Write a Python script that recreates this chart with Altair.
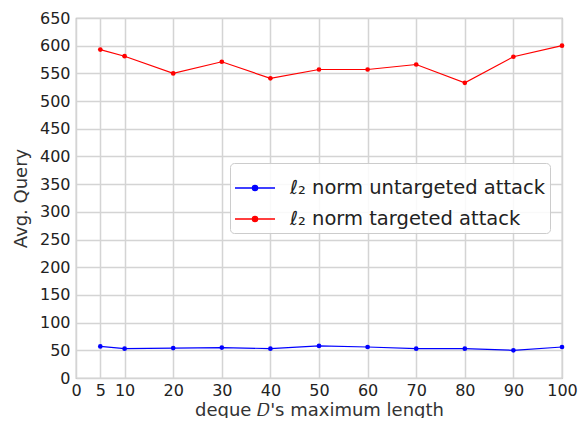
import altair as alt
import pandas as pd

lengths = [5, 10, 20, 30, 40, 50, 60, 70, 80, 90, 100]
untargeted = [57, 53, 54, 55, 53, 58, 56, 53, 53, 50, 56]
targeted = [593, 581, 550, 571, 541, 557, 557, 566, 533, 580, 600]
series_names = ["ℓ₂ norm untargeted attack", "ℓ₂ norm targeted attack"]
series_colors = ["#0000ff", "#ff0000"]
x_ticks = [0, 5, 10, 20, 30, 40, 50, 60, 70, 80, 90, 100]
y_ticks = list(range(0, 651, 50))

rows = []
for L, u, t in zip(lengths, untargeted, targeted):
    rows.append({"len": L, "q": u, "series": series_names[0]})
    rows.append({"len": L, "q": t, "series": series_names[1]})
df = pd.DataFrame(rows)

font = "DejaVu Sans"
sym = "M -1 0 L 1 0 M -0.13 0 A 0.13 0.13 0 1 0 0.13 0 A 0.13 0.13 0 1 0 -0.13 0 Z"

chart = alt.Chart(df).mark_line(
    strokeWidth=1.2,
    point=alt.OverlayMarkDef(filled=True, size=22),
).encode(
    x=alt.X("len:Q", scale=alt.Scale(domain=[0, 100], nice=False),
            axis=alt.Axis(values=x_ticks, title="deque 𝐷's maximum length",
                          labelFontSize=16, titleFontSize=18, labelPadding=4,
                          titlePadding=3, ticks=False, labelFlush=False)),
    y=alt.Y("q:Q", scale=alt.Scale(domain=[0, 650], nice=False),
            axis=alt.Axis(values=y_ticks, title="Avg. Query",
                          labelFontSize=16, titleFontSize=18, labelPadding=6,
                          titlePadding=9, ticks=False, labelFlush=False)),
    color=alt.Color("series:N",
                    scale=alt.Scale(domain=series_names, range=series_colors),
                    legend=alt.Legend(
                        title=None, orient="none", legendX=154, legendY=145,
                        symbolType=sym, symbolSize=1600, symbolStrokeWidth=1.3,
                        labelFontSize=19.5, labelColor="#222222", labelLimit=500,
                        padding=4, rowPadding=0, labelOffset=14,
                        strokeColor="#cccccc", fillColor="rgba(255,255,255,0.85)",
                        cornerRadius=4)),
).properties(
    width=486, height=360,
    autosize=alt.AutoSizeParams(type="none"),
    padding={"left": 68, "top": 10, "right": 16, "bottom": 40},
).configure(
    font=font,
).configure_axis(
    grid=True, gridColor="#d4d4d4", gridWidth=1.5,
    domain=False, labelColor="#222222", titleColor="#333333",
    titleFontWeight="normal",
).configure_view(
    stroke="#b5b5b5", strokeWidth=1.2,
).configure_legend(
    labelFont=font,
)

chart.save("out.html", embed_options={"renderer": "svg", "actions": False})
